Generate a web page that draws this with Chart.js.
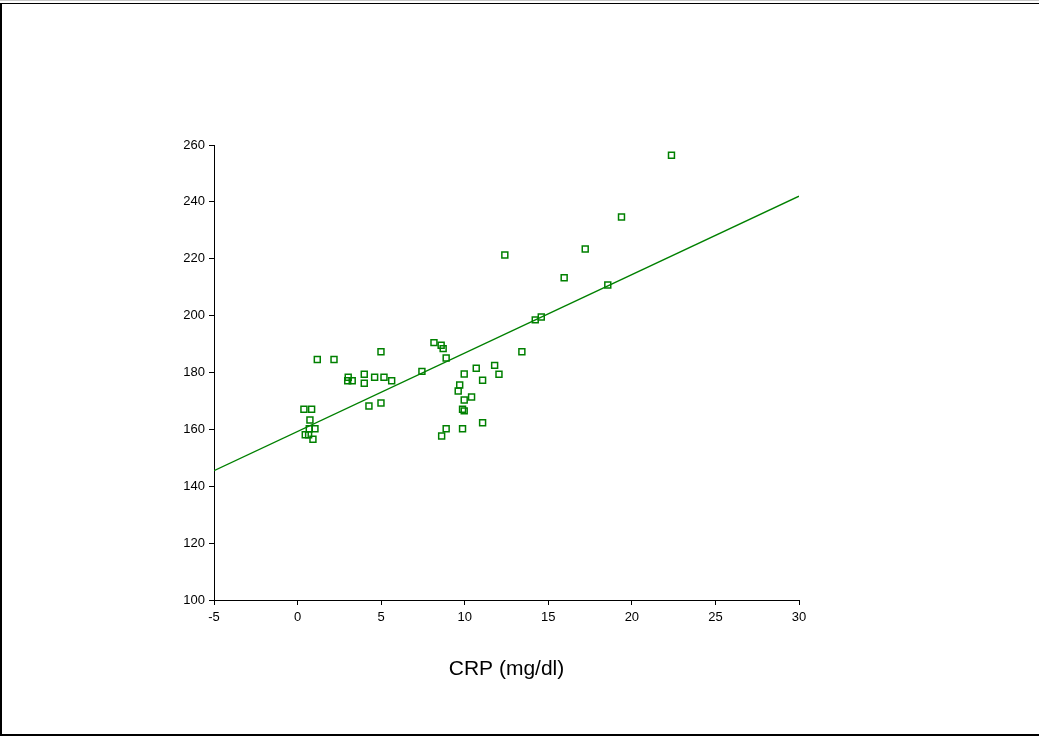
<!DOCTYPE html>
<html>
<head>
<meta charset="utf-8">
<script src="https://cdn.jsdelivr.net/npm/chart.js@4"></script>
<style>
  body { margin: 0; background: #fff; }
  #wrap { position: relative; width: 1039px; height: 736px; overflow: hidden; }
  #frame {
    position: absolute; left: 0; top: 3px; width: 1039px; height: 733px;
    box-sizing: border-box;
    border-left: 2px solid #000; border-top: 1px solid #000; border-bottom: 2px solid #000;
  }
  #topline { position: absolute; left: 0; top: 0; width: 1039px; height: 1px; background: #c8c8c8; }
  canvas { position: absolute; left: 0; top: 0; }
</style>
</head>
<body>
<div id="wrap">
  <div id="topline"></div>
  <div id="frame"></div>
  <canvas id="chart" width="1039" height="736"></canvas>
</div>
<script>
const crp = [
  22.37, 19.38, 17.21, 12.40, 15.95, 18.56, 14.58, 14.22, 13.42, 11.79,
  10.69, 9.97, 12.05, 11.07, 9.70, 9.61, 10.41, 9.97, 9.87, 9.97,
  11.07, 8.89, 9.87, 8.62, 8.16, 8.59, 8.71, 8.89, 7.44, 4.99,
  1.18, 2.18, 3.03, 3.00, 3.27, 3.99, 3.99, 4.61, 5.17, 5.63,
  4.27, 4.99, 0.38, 0.84, 0.74, 0.70, 1.04, 0.46, 0.66, 0.92
];
const values = [
  256.4, 234.7, 223.4, 221.3, 213.3, 210.8, 199.5, 198.5, 187.3, 182.5,
  181.5, 179.5, 179.4, 177.3, 175.6, 173.5, 171.4, 170.3, 167.1, 166.5,
  162.3, 160.2, 160.2, 157.7, 190.5, 189.6, 188.4, 185.1, 180.4, 187.3,
  184.6, 184.6, 178.3, 177.1, 177.1, 179.4, 176.2, 178.3, 178.3, 177.1,
  168.2, 169.3, 167.1, 167.1, 163.3, 160.2, 160.2, 158.1, 158.1, 156.5
];

// fitted line end points
const fitX = [-5, 30];
const fitY = [145.5, 242.0];

const xTicks = [-5, 0, 5, 10, 15, 20, 25, 30];
const yTicks = [100, 120, 140, 160, 180, 200, 220, 240, 260];

const green = '#008000';
const fontFamily = '"Liberation Sans", Arial, sans-serif';

new Chart(document.getElementById('chart'), {
  type: 'scatter',
  data: {
    datasets: [
      {
        label: 'data',
        data: crp.map((x, i) => ({ x: x, y: values[i] })),
        pointStyle: 'rect',
        pointRadius: 4.2,
        pointHoverRadius: 4.2,
        borderColor: green,
        borderWidth: 1.5,
        backgroundColor: 'rgba(255,255,255,0)'
      },
      {
        type: 'line',
        label: 'fit',
        data: fitX.map((x, i) => ({ x: x, y: fitY[i] })),
        borderColor: green,
        borderWidth: 1.3,
        pointRadius: 0,
        fill: false
      }
    ]
  },
  options: {
    responsive: false,
    animation: false,
    events: [],
    layout: { padding: { left: 0, top: 145, right: 240, bottom: 0 } },
    plugins: { legend: { display: false }, tooltip: { enabled: false } },
    scales: {
      x: {
        type: 'linear',
        min: xTicks[0],
        max: xTicks[xTicks.length - 1],
        afterBuildTicks: s => { s.ticks = xTicks.map(v => ({ value: v })); },
        afterFit: s => { s.height = 136; },
        grid: { drawOnChartArea: false, drawTicks: true, tickLength: 5, color: '#000' },
        border: { display: true, color: '#000', width: 1 },
        ticks: { color: '#000', padding: 5, font: { family: fontFamily, size: 13 } },
        title: {
          display: true,
          text: 'CRP (mg/dl)',
          color: '#000',
          font: { family: fontFamily, size: 21 },
          padding: { top: 0, bottom: 54 }
        }
      },
      y: {
        min: yTicks[0],
        max: yTicks[yTicks.length - 1],
        afterBuildTicks: s => { s.ticks = yTicks.map(v => ({ value: v })); },
        afterFit: s => { s.width = 214; },
        grid: { drawOnChartArea: false, drawTicks: true, tickLength: 5, color: '#000' },
        border: { display: true, color: '#000', width: 1 },
        ticks: { color: '#000', padding: 4, font: { family: fontFamily, size: 13 } }
      }
    }
  }
});
</script>
</body>
</html>
